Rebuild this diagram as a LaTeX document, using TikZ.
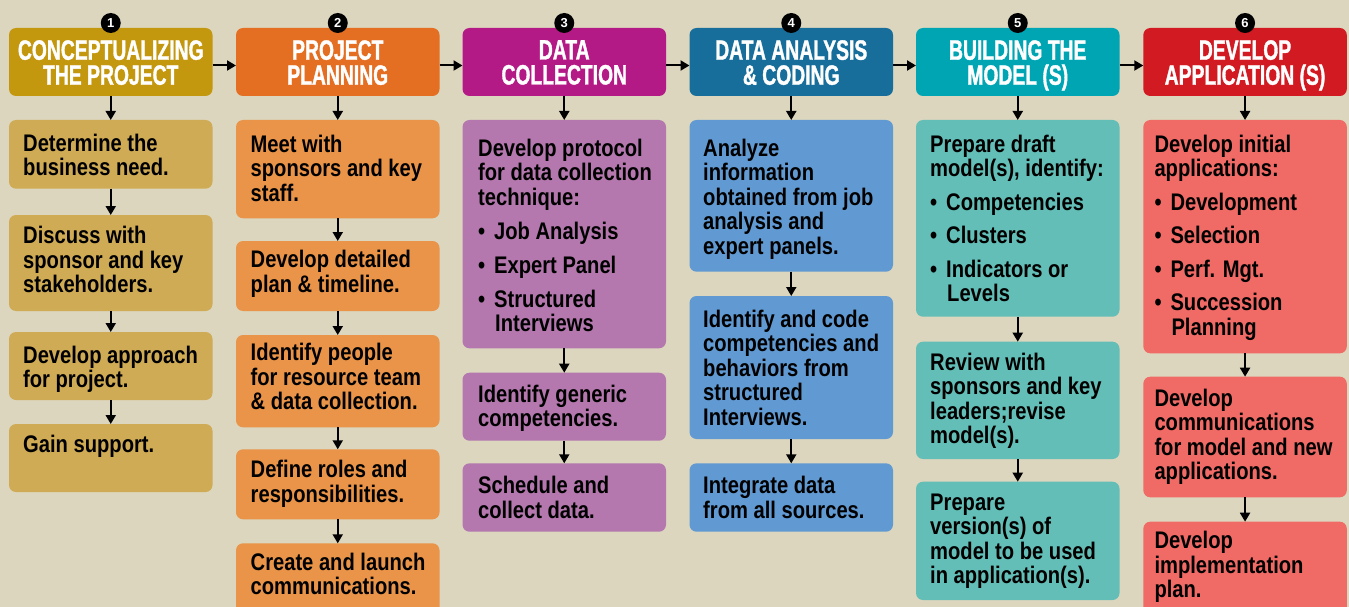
\documentclass[tikz,border=0pt]{standalone}
\usepackage{fontspec}
\setmainfont{Liberation Sans}
\newfontfamily\bodyfont{Liberation Sans}[FakeStretch=0.84]
\newfontfamily\headfont{Liberation Sans}[FakeStretch=0.69,FakeBold=1.2]
\usetikzlibrary{arrows.meta}
\definecolor{bg}{HTML}{DCD6BE}
\definecolor{hA}{HTML}{C4980E}
\definecolor{hB}{HTML}{E46E22}
\definecolor{hC}{HTML}{B41A86}
\definecolor{hD}{HTML}{186E9B}
\definecolor{hE}{HTML}{00A5B4}
\definecolor{hF}{HTML}{D21A22}
\definecolor{cA}{HTML}{CFAB55}
\definecolor{cB}{HTML}{E99448}
\definecolor{cC}{HTML}{B478AE}
\definecolor{cD}{HTML}{619AD3}
\definecolor{cE}{HTML}{62BEB6}
\definecolor{cF}{HTML}{F06A66}
\newcommand\bul{\makebox[16pt][l]{\textbullet}}
\tikzset{
  box/.style={rectangle, rounded corners=7pt, inner sep=0pt, outer sep=0pt,
    minimum width=203.5pt, anchor=north west},
  hdr/.style={box, minimum height=68pt},
  txt/.style={anchor=north west, inner sep=0pt, align=left,
    font=\bodyfont\bfseries\fontsize{24}{24.5}\selectfont, text=black},
  htxt/.style={anchor=north, inner sep=0pt, align=center,
    font=\headfont\bfseries\fontsize{28}{25}\selectfont, text=white},
  num/.style={circle, fill=black, minimum size=20pt, inner sep=0pt, text=white,
    font=\bfseries\fontsize{13}{13}\selectfont},
  arr/.style={line width=2pt, -{Triangle[width=10pt,length=9pt]}},
}
% name, color, x, ytop, height, dx, dy, text
\newcommand\fbx[8]{%
  \node[box, fill=#2, minimum height=#5pt] (#1) at (#3,#4) {};
  \node[txt] (#1t) at ([xshift=#6pt,yshift=-#7pt]#1.north west) {#8};
}
\begin{document}
\begin{tikzpicture}[x=1pt,y=-1pt]
\fill[bg] (0,0) rectangle (1349,607);
\useasboundingbox (0,0) rectangle (1349,607);
\clip (0,0) rectangle (1349,607);

% headers
\node[hdr, fill=hA] (h1) at (9,28) {};
\node[hdr, fill=hB] (h2) at (236,28) {};
\node[hdr, fill=hC] (h3) at (462.5,28) {};
\node[hdr, fill=hD] (h4) at (689.5,28) {};
\node[hdr, fill=hE] (h5) at (916,28) {};
\node[hdr, fill=hF] (h6) at (1143.3,28) {};
\node[htxt] (h1t) at ([yshift=-12pt]h1.north) {CONCEPTUALIZING\\THE PROJECT};
\node[htxt] (h2t) at ([yshift=-12pt]h2.north) {PROJECT\\PLANNING};
\node[htxt] (h3t) at ([yshift=-12pt]h3.north) {DATA\\COLLECTION};
\node[htxt] (h4t) at ([yshift=-12pt]h4.north) {DATA ANALYSIS\\\& CODING};
\node[htxt] (h5t) at ([yshift=-12pt]h5.north) {BUILDING THE\\MODEL (S)};
\node[htxt] (h6t) at ([yshift=-12pt]h6.north) {DEVELOP\\APPLICATION (S)};

\node[num] (n1) at (h1.north |- 0,23) {1};
\node[num] (n2) at (h2.north |- 0,23) {2};
\node[num] (n3) at (h3.north |- 0,23) {3};
\node[num] (n4) at (h4.north |- 0,23) {4};
\node[num] (n5) at (h5.north |- 0,23) {5};
\node[num] (n6) at (h6.north |- 0,23) {6};

\foreach \a/\b in {h1/h2,h2/h3,h3/h4,h4/h5,h5/h6}
  \draw[arr] ([yshift=-3.5pt]\a.east) -- ([yshift=-3.5pt]\b.west);

% column 1
\fbx{b11}{cA}{9}{120}{68.7}{14}{13.8}{Determine the\\business need.}
\fbx{b12}{cA}{9}{215}{96}{14}{11.1}{Discuss with\\sponsor and key\\stakeholders.}
\fbx{b13}{cA}{9}{332}{68}{14}{13.5}{Develop approach\\for project.}
\fbx{b14}{cA}{9}{424}{68}{14}{10.5}{Gain support.}
% column 2
\fbx{b21}{cB}{236}{120}{98.3}{14.5}{14.5}{Meet with\\sponsors and key\\staff.}
\fbx{b22}{cB}{236}{241}{70}{14.5}{9.1}{Develop detailed\\plan \& timeline.}
\fbx{b23}{cB}{236}{335}{92.3}{14.5}{8.3}{Identify people\\for resource team\\\& data collection.}
\fbx{b24}{cB}{236}{449.3}{70}{14.5}{10.8}{Define roles and\\responsibilities.}
\fbx{b25}{cB}{236}{543.3}{80}{14.5}{9.5}{Create and launch\\communications.}
% column 3
\fbx{b31}{cC}{462.5}{120}{228.3}{15.5}{18.8}{Develop protocol\\for data collection\\technique:\\[9.5pt]\bul Job Analysis\\[9.5pt]\bul Expert Panel\\[9.5pt]\bul Structured\\\hspace*{17pt}Interviews}
\fbx{b32}{cC}{462.5}{372.7}{68}{15.5}{11.8}{Identify generic\\competencies.}
\fbx{b33}{cC}{462.5}{463.3}{68.4}{15.5}{12.8}{Schedule and\\collect data.}
% column 4
\fbx{b41}{cD}{689.5}{120}{151.7}{13.5}{18.8}{Analyze\\information\\obtained from job\\analysis and\\expert panels.}
\fbx{b42}{cD}{689.5}{296}{143}{13.5}{13.5}{Identify and code\\competencies and\\behaviors from\\structured\\Interviews.}
\fbx{b43}{cD}{689.5}{463.3}{68.4}{13.5}{12.8}{Integrate data\\from all sources.}
% column 5
\fbx{b51}{cE}{916}{120}{196.7}{14}{14.8}{Prepare draft\\model(s), identify:\\[9pt]\bul Competencies\\[9pt]\bul Clusters\\[9pt]\bul Indicators or\\\hspace*{17pt}Levels}
\fbx{b52}{cE}{916}{341.7}{117.3}{14}{11.1}{Review with\\sponsors and key\\leaders;revise\\model(s).}
\fbx{b53}{cE}{916}{481.7}{118.3}{14}{11.8}{Prepare\\version(s) of\\model to be used\\in application(s).}
% column 6
\fbx{b61}{cF}{1143.3}{120}{233.3}{11}{14.8}{Develop initial\\applications:\\[9pt]\bul Development\\[9pt]\bul Selection\\[9pt]\bul Perf. Mgt.\\[9pt]\bul Succession\\\hspace*{17pt}Planning}
\fbx{b62}{cF}{1143.3}{376.7}{120.6}{11}{12.1}{Develop\\communications\\for model and new\\applications.}
\fbx{b63}{cF}{1143.3}{521.7}{100}{11}{9.4}{Develop\\implementation\\plan.}

% vertical connectors
\foreach \a/\b in {h1/b11,b11/b12,b12/b13,b13/b14,
                   h2/b21,b21/b22,b22/b23,b23/b24,b24/b25,
                   h3/b31,b31/b32,b32/b33,
                   h4/b41,b41/b42,b42/b43,
                   h5/b51,b51/b52,b52/b53,
                   h6/b61,b61/b62,b62/b63}
  \draw[arr] (\a.south) -- (\b.north);
\end{tikzpicture}
\end{document}
